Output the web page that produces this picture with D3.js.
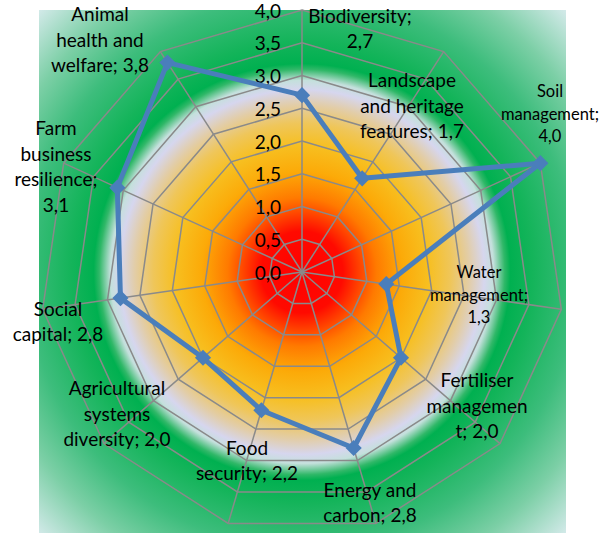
<!DOCTYPE html>
<html>
<head>
<meta charset="utf-8">
<script src="https://cdn.jsdelivr.net/npm/d3@7"></script>
<style>
  body { margin: 0; background: #fff; }
  text { font-family: Lato, "Open Sans", sans-serif; fill: #000; }
</style>
</head>
<body>
<div id="chart"></div>
<script>
// chart data
const categories = [
  "Biodiversity", "Landscape and heritage features", "Soil management",
  "Water management", "Fertiliser management", "Energy and carbon",
  "Food security", "Agricultural systems diversity", "Social capital",
  "Farm business resilience", "Animal health and welfare"
];
const values = [2.7, 1.7, 4.0, 1.3, 2.0, 2.8, 2.2, 2.0, 2.8, 3.1, 3.8];
const tickValues = [0, 0.5, 1, 1.5, 2, 2.5, 3, 3.5, 4];

// how each data label wraps ({v} = value)
const labelWrap = [
  "Biodiversity;|{v}",
  "Landscape|and heritage|features; {v}",
  "Soil|management;|{v}",
  "Water|management;|{v}",
  "Fertiliser|managemen|t; {v}",
  "Energy and|carbon; {v}",
  "Food|security; {v}",
  "Agricultural|systems|diversity; {v}",
  "Social|capital; {v}",
  "Farm|business|resilience;|{v}",
  "Animal|health and|welfare; {v}"
];
// label block centres relative to the radar centre (manually placed in source)
const labelOffset = [
  [58, -243], [110, -166], [248, -158], [177, 23], [175, 134], [68, 231],
  [-55, 189], [-185, 142], [-244, 50], [-246, -105], [-202, -232]
];
const smallLabels = new Set([2, 3]);

const width = 604, height = 533;
const cx = 302, cy = 272, R = 262;

const fmt = v => d3.format(".1f")(v).replace(".", ",");

const svg = d3.select("#chart").append("svg")
  .attr("width", width)
  .attr("height", height);

// radial background fill
const grad = svg.append("defs").append("radialGradient")
  .attr("id", "bg")
  .attr("gradientUnits", "userSpaceOnUse")
  .attr("cx", cx).attr("cy", cy).attr("r", 372);

const stops = [
  [0, "#ff0000"], [0.11, "#ff0a00"], [0.2, "#ff7a00"], [0.27, "#fcaa08"],
  [0.34, "#f7bf20"], [0.4, "#efc65a"], [0.45, "#e2cda8"], [0.49, "#d6d6ee"],
  [0.515, "#c4e0dc"], [0.545, "#30b868"], [0.56, "#00b050"], [0.62, "#14b45a"],
  [0.74, "#3dbd7c"], [0.86, "#7ccfa6"], [1, "#d4eaea"]
];
grad.selectAll("stop").data(stops).enter().append("stop")
  .attr("offset", d => d[0])
  .attr("stop-color", d => d[1]);

svg.append("rect")
  .attr("x", 39).attr("y", 10)
  .attr("width", 527).attr("height", 523)
  .attr("fill", "url(#bg)");

const r = d3.scaleLinear().domain([0, 4]).range([0, R]);
const angle = i => (i / categories.length) * 2 * Math.PI;
const px = (i, v) => cx + r(v) * Math.sin(angle(i));
const py = (i, v) => cy - r(v) * Math.cos(angle(i));

const grid = svg.append("g")
  .attr("fill", "none")
  .attr("stroke", "#8a8a8a")
  .attr("stroke-width", 1.5);

// rings
grid.selectAll("polygon")
  .data(tickValues.filter(t => t > 0))
  .enter().append("polygon")
  .attr("points", t => categories.map((c, i) => [px(i, t), py(i, t)].join(",")).join(" "));

// spokes
grid.selectAll("line")
  .data(categories)
  .enter().append("line")
  .attr("x1", cx).attr("y1", cy)
  .attr("x2", (d, i) => px(i, 4))
  .attr("y2", (d, i) => py(i, 4));

// tick labels along the first axis
svg.append("g").selectAll("text")
  .data(tickValues)
  .enter().append("text")
  .attr("x", cx - 21)
  .attr("y", t => cy - r(t) + 1)
  .attr("dy", "0.35em")
  .attr("text-anchor", "end")
  .attr("font-size", 19)
  .text(fmt);

// series line
const line = d3.line()
  .x((d, i) => px(i, d))
  .y((d, i) => py(i, d))
  .curve(d3.curveLinearClosed);

svg.append("path")
  .datum(values)
  .attr("d", line)
  .attr("fill", "none")
  .attr("stroke", "#4a7ebb")
  .attr("stroke-width", 5)
  .attr("stroke-linejoin", "round");

// diamond markers
svg.append("g").selectAll("path")
  .data(values)
  .enter().append("path")
  .attr("d", d3.symbol(d3.symbolSquare, 130))
  .attr("transform", (d, i) => `translate(${px(i, d)},${py(i, d)}) rotate(45)`)
  .attr("fill", "#4a7ebb");

// data labels
const labels = svg.append("g").selectAll("text")
  .data(values)
  .enter().append("text")
  .attr("text-anchor", "middle")
  .attr("font-size", (d, i) => smallLabels.has(i) ? 16.5 : 19);

labels.each(function (d, i) {
  const lines = labelWrap[i].replace("{v}", fmt(d)).split("|");
  const lh = smallLabels.has(i) ? 22.5 : 25.5;
  const x0 = cx + labelOffset[i][0];
  const y0 = cy + labelOffset[i][1] - (lines.length - 1) * lh / 2;
  d3.select(this).selectAll("tspan")
    .data(lines)
    .enter().append("tspan")
    .attr("x", x0)
    .attr("y", (l, j) => y0 + j * lh)
    .attr("dy", "0.35em")
    .text(l => l);
});
</script>
</body>
</html>
